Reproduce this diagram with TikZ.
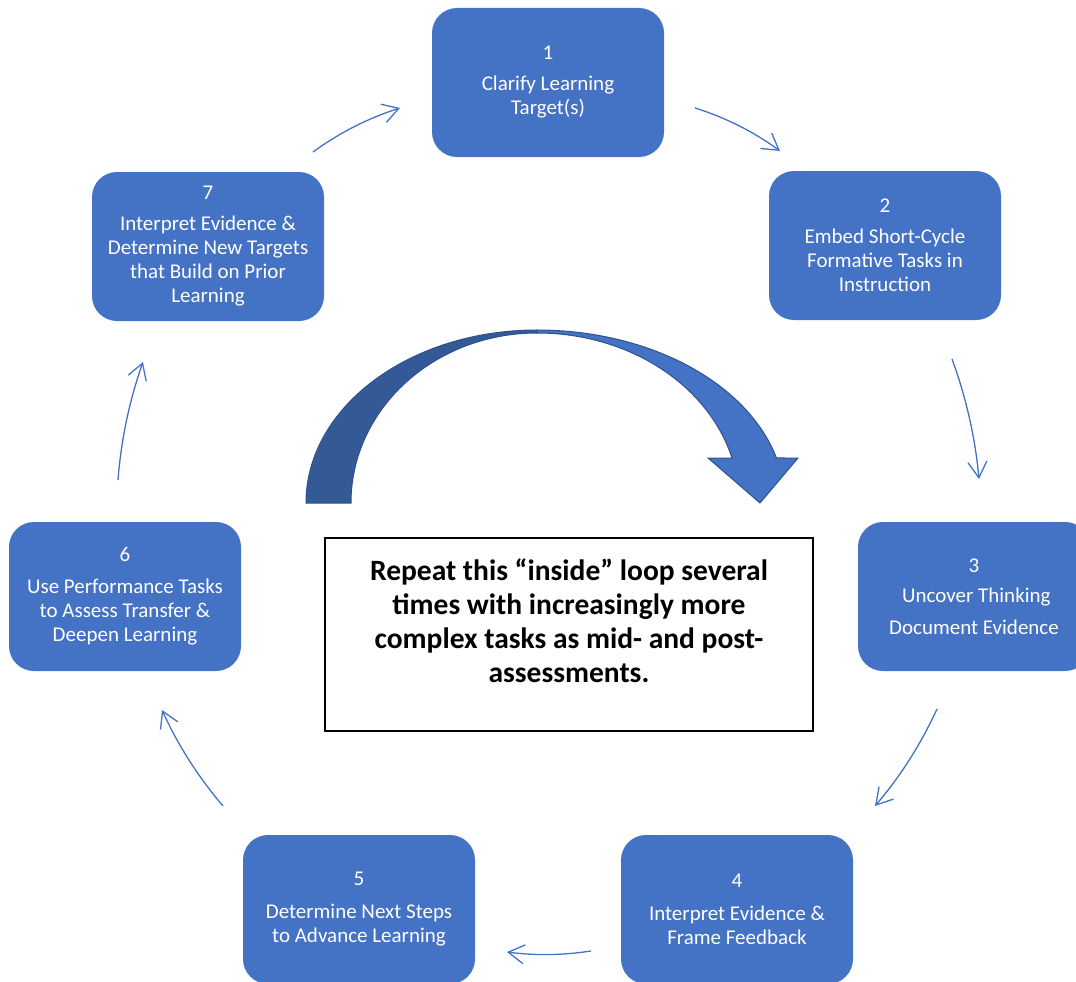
\documentclass[tikz,border=0pt]{standalone}
\usepackage{fontspec}
\setmainfont{Carlito}
\usetikzlibrary{arrows.meta}
\definecolor{boxblue}{HTML}{4472C4}
\definecolor{darkblue}{HTML}{335A96}
\definecolor{edgeblue}{HTML}{2F528F}
\begin{document}
\begin{tikzpicture}[x=1pt,y=-1pt,
  stepbox/.style={rectangle, rounded corners=25pt, fill=boxblue, minimum width=232pt,
    minimum height=149pt, text=white, align=center, inner sep=0pt,
    font=\fontsize{21}{24}\selectfont},
  conn/.style={draw=boxblue, line width=1.3pt, -{Straight Barb[length=16pt,width=19pt]}},
  loopbox/.style={rectangle, draw=black, line width=2.6pt, fill=white, minimum width=488pt,
    minimum height=193pt, align=center, inner sep=0pt, text depth=27pt,
    font=\fontsize{29.5}{34}\selectfont\bfseries}
]
\useasboundingbox (0,0) rectangle (1076,982);
\clip (0,0) rectangle (1076,982);

% boxes
\node[stepbox] (b1) at (548,82.5) {1\\[7pt]Clarify Learning\\Target(s)};
\node[stepbox] (b2) at (885,245.5) {2\\[7pt]Embed Short-Cycle\\Formative Tasks in\\Instruction};
\node[stepbox] (b3) at (974,596.5) {3\\[6pt]\ Uncover Thinking\\[8pt]Document Evidence};
\node[stepbox] (b4) at (737,909.5) {4\\[9pt]Interpret Evidence \&\\Frame Feedback};
\node[stepbox] (b5) at (359,909.5) {5\\[9pt]Determine Next Steps\\to Advance Learning};
\node[stepbox] (b6) at (125,596.5) {6\\[8pt]Use Performance Tasks\\to Assess Transfer \&\\Deepen Learning};
\node[stepbox] (b7) at (208,246.5) {7\\[7pt]Interpret Evidence \&\\Determine New Targets\\that Build on Prior\\Learning};

% connector end points
\coordinate (s71) at (313,152); \coordinate (e71) at (400,108);
\coordinate (s12) at (695,108); \coordinate (e12) at (780,151);
\coordinate (s23) at (952,359); \coordinate (e23) at (979,479);
\coordinate (s34) at (937,709); \coordinate (e34) at (875,806);
\coordinate (s45) at (591,951); \coordinate (e45) at (507,952);
\coordinate (s56) at (223,806); \coordinate (e56) at (162,710);
\coordinate (s67) at (118,480); \coordinate (e67) at (143,362);

\draw[conn] (s71) .. controls (339.6,132.6) and (368.6,118) .. (e71);
\draw[conn] (s12) .. controls (725.7,117.6) and (754.1,132) .. (e12);
\draw[conn] (s23) .. controls (966.2,397.8) and (975.2,437.8) .. (e23);
\draw[conn] (s34) .. controls (920.8,744.2) and (900.2,776.6) .. (e34);
\draw[conn] (s45) .. controls (563,955.3) and (535,955.7) .. (e45);
\draw[conn] (s56) .. controls (198.2,776.9) and (177.8,744.9) .. (e56);
\draw[conn] (s67) .. controls (121.1,439.6) and (129.5,400.2) .. (e67);

% big curved arrow
\filldraw[fill=boxblue, draw=edgeblue, line width=1pt]
  (537,330) arc[start angle=270, end angle=344.92, x radius=248, y radius=173]
  -- (798,458) -- (760,503) -- (708,458) -- (732,458)
  arc[start angle=344.65, end angle=270, x radius=202, y radius=170] -- cycle;
\filldraw[fill=darkblue, draw=edgeblue, line width=1pt]
  (306,503) arc[start angle=180, end angle=270, x radius=231, y radius=173]
  -- (537,333) arc[start angle=270, end angle=180, x radius=186, y radius=170] -- cycle;

% inner loop box
\node[loopbox] (loop) at (569,634.5) {Repeat this “inside” loop several\\times with increasingly more\\complex tasks as mid- and post-\\assessments.};
\end{tikzpicture}
\end{document}
